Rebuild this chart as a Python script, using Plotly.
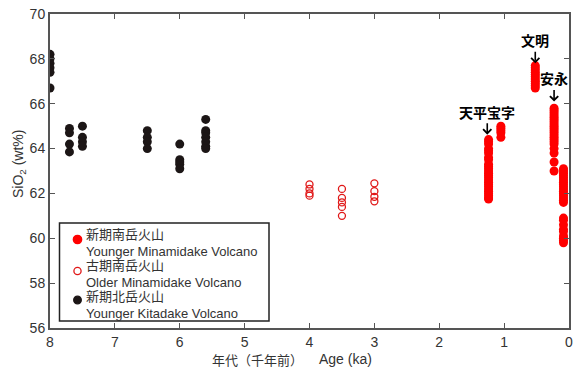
import plotly.graph_objects as go

# ---- data (age in ka, SiO2 wt%) ----
kita_age = [8.0]*6 + [7.70]*4 + [7.50]*4 + [6.50]*4 + [6.0]*5 + [5.60]*7
kita_sio2 = [68.2, 68.0, 67.8, 67.6, 67.4, 66.7,
             64.9, 64.7, 64.2, 63.85,
             65.0, 64.5, 64.3, 64.1,
             64.8, 64.5, 64.3, 64.0,
             64.2, 63.5, 63.4, 63.3, 63.1,
             65.3, 64.8, 64.7, 64.5, 64.3, 64.1, 64.0]

old_age = [4.0]*4 + [3.5]*5 + [3.0]*4
old_sio2 = [62.4, 62.2, 62.0, 61.9,
            62.2, 61.8, 61.6, 61.4, 61.0,
            62.45, 62.1, 61.85, 61.65]

g_tenpyo = [64.4, 64.3, 64.2, 64.0, 63.9, 63.8, 63.6, 63.5, 63.3, 63.2, 63.1, 63.0,
            62.9, 62.8, 62.7, 62.6, 62.5, 62.4, 62.3, 62.2, 62.1, 62.0, 61.9, 61.8, 61.75]
g_b = [65.0, 64.9, 64.8, 64.7, 64.5]
g_bunmei = [67.7, 67.6, 67.5, 67.4, 67.3, 67.2, 67.1, 67.0, 66.9, 66.8, 66.7]
g_anei = [65.8, 65.7, 65.6, 65.5, 65.4, 65.3, 65.2, 65.1, 65.0, 64.9, 64.8, 64.7,
          64.6, 64.5, 64.4, 64.3, 64.2, 64.0, 63.8, 63.4, 63.0]
g_recent = [63.1, 63.0, 62.9, 62.8, 62.7, 62.6, 62.5, 62.4, 62.3, 62.2, 62.1, 62.0,
            61.9, 61.8, 61.7, 61.6, 60.9, 60.8, 60.6, 60.4, 60.3, 60.1, 60.0, 59.9, 59.8]
young_age = ([1.24]*len(g_tenpyo) + [1.05]*len(g_b) + [0.52]*len(g_bunmei)
             + [0.23]*len(g_anei) + [0.085]*len(g_recent))
young_sio2 = g_tenpyo + g_b + g_bunmei + g_anei + g_recent

eruptions = ["文明", "安永", "天平宝字"]
eruption_age = [0.52, 0.23, 1.26]
eruption_tip = [67.8, 66.1, 64.62]

series_jp = ["新期南岳火山", "古期南岳火山", "新期北岳火山"]
series_en = ["Younger Minamidake Volcano", "Older Minamidake Volcano", "Younger Kitadake Volcano"]

x_ticks = [8, 7, 6, 5, 4, 3, 2, 1, 0]
y_ticks = [56, 58, 60, 62, 64, 66, 68, 70]

LAT = "Liberation Sans, Arial, sans-serif"
JP = "Noto Sans CJK JP, sans-serif"
MIX = "Liberation Sans, Noto Sans CJK JP, sans-serif"

# plot-area geometry in pixels (for paper-coordinate helpers)
PX0, PW, PY0, PH = 50, 519, 14, 314


def px(xp):
    return (xp - PX0) / PW


def py(yp):
    return (PY0 + PH - yp) / PH


RED = "#ff0000"
ORED = "#e01818"
BLK = "#1c1616"

fig = go.Figure()
fig.add_trace(go.Scatter(
    x=young_age, y=young_sio2, mode="markers", name=series_en[0],
    marker=dict(size=9, color=RED, line=dict(width=0))))
fig.add_trace(go.Scatter(
    x=old_age, y=old_sio2, mode="markers", name=series_en[1],
    marker=dict(size=7, color="rgba(0,0,0,0)", line=dict(width=1.3, color=ORED))))
fig.add_trace(go.Scatter(
    x=kita_age, y=kita_sio2, mode="markers", name=series_en[2],
    marker=dict(size=9, color=BLK, line=dict(width=0))))

for name, ax_, tip in zip(eruptions, eruption_age, eruption_tip):
    fig.add_annotation(
        x=ax_, y=tip, xref="x", yref="y", text="<b>%s</b>" % name,
        showarrow=True, arrowhead=4, arrowsize=1, arrowwidth=1.6, arrowcolor="black",
        ax=0, ay=-23, font=dict(size=14, color="black", family=JP))

# axis titles
fig.add_annotation(x=px(257), y=py(359.5), xref="paper", yref="paper",
                   text="年代（千年前）", showarrow=False,
                   xanchor="center", yanchor="middle",
                   font=dict(size=13, color="#333", family=JP))
fig.add_annotation(x=px(345), y=py(358.5), xref="paper", yref="paper",
                   text="Age (ka)", showarrow=False,
                   xanchor="center", yanchor="middle",
                   font=dict(size=14, color="#333", family=LAT))
fig.add_annotation(x=px(19), y=py(164), xref="paper", yref="paper",
                   text="SiO<sub>2</sub> (wt%)", showarrow=False, textangle=-90,
                   xanchor="center", yanchor="middle",
                   font=dict(size=14, color="#333", family=LAT))

# custom legend box
fig.add_shape(type="rect", xref="paper", yref="paper",
              x0=px(59.5), x1=px(269), y0=py(321), y1=py(223),
              line=dict(color="#222", width=1.5), fillcolor="white", layer="above")
leg_center = [242.5, 273.5, 304.5]
leg_mark_y = [239.5, 271, 300]
leg_marks = [dict(fill=RED, line=RED, r=4.2), dict(fill="white", line=ORED, r=3.6),
             dict(fill=BLK, line=BLK, r=3.8)]
for yc, ym, jp, en, mk in zip(leg_center, leg_mark_y, series_jp, series_en, leg_marks):
    fig.add_shape(type="circle", xref="paper", yref="paper",
                  x0=px(77.5 - mk["r"]), x1=px(77.5 + mk["r"]),
                  y0=py(ym + mk["r"]), y1=py(ym - mk["r"]),
                  fillcolor=mk["fill"], line=dict(color=mk["line"], width=1.3), layer="above")
    fig.add_annotation(x=px(84), y=py(yc), xref="paper", yref="paper",
                       text="%s<br>%s" % (jp, en),
                       showarrow=False, xanchor="left", yanchor="middle", align="left",
                       font=dict(size=13, color="#333", family=MIX))

axis_common = dict(showgrid=False, zeroline=False, showline=True, linecolor="#555",
                   linewidth=2, mirror="ticks", ticks="inside", ticklen=5,
                   tickcolor="#555", tickwidth=1.2, automargin=False,
                   tickfont=dict(size=14, color="#333", family=LAT))
fig.update_xaxes(range=[8, 0], tickvals=x_ticks, ticktext=[str(v) for v in x_ticks],
                 **axis_common)
fig.update_yaxes(range=[56, 70], tickvals=y_ticks, ticktext=[str(v) for v in y_ticks],
                 **axis_common)

fig.update_layout(
    width=575, height=369,
    margin=dict(l=50, r=6, t=14, b=41, autoexpand=False),
    paper_bgcolor="white", plot_bgcolor="white",
    showlegend=False,
)

fig.write_html("out.html", config={"displayModeBar": False},
               post_script="document.body.style.margin='0';document.body.style.overflow='hidden';")
